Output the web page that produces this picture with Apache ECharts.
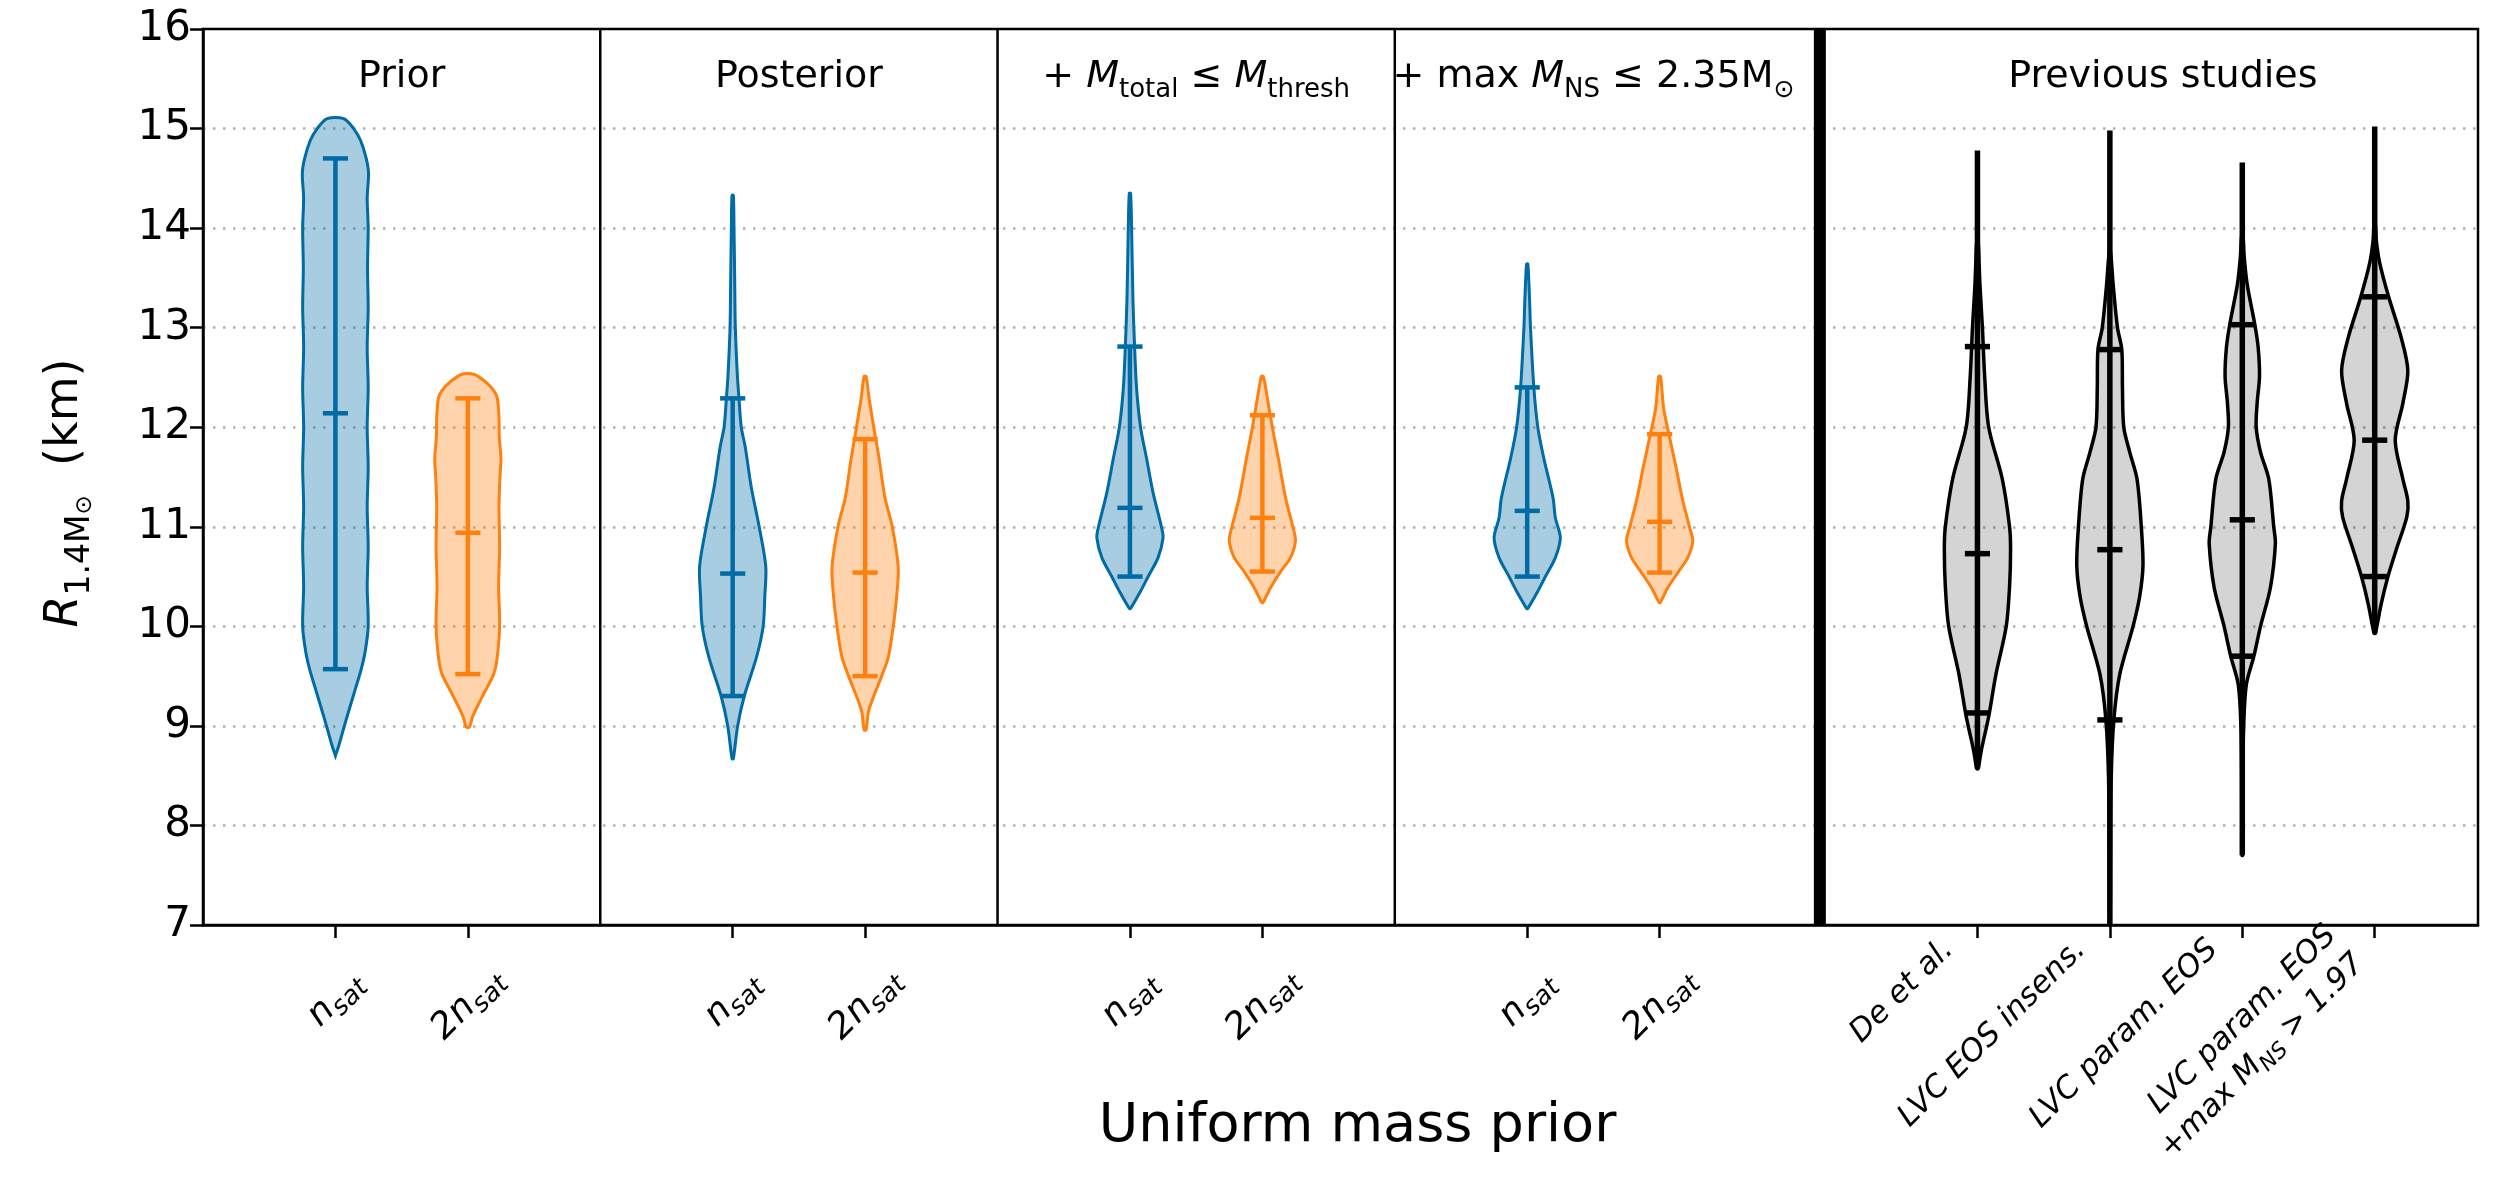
<!DOCTYPE html>
<html>
<head>
<meta charset="utf-8">
<script src="https://cdn.jsdelivr.net/npm/echarts@6/dist/echarts.min.js"></script>
<style>
  html, body { margin: 0; padding: 0; background: #ffffff; }
  #chart { width: 2509px; height: 1203px; }
</style>
</head>
<body>
<div id="chart"></div>
<script>
const FONT = 'DejaVu Sans';

// Horizontal position of each violin; panels are split at 3, 6, 9 and (thick) 12.21
const positions = [1, 2, 4, 5, 7, 8, 10, 11, 13.4, 14.4, 15.4, 16.4];
const tickLabels = [
  '{i|n}{s|sat}', '{i|2n}{s|sat}',
  '{i|n}{s|sat}', '{i|2n}{s|sat}',
  '{i|n}{s|sat}', '{i|2n}{s|sat}',
  '{i|n}{s|sat}', '{i|2n}{s|sat}',
  '{p|De et al.}',
  '{p|LVC EOS insens.}',
  '{p|LVC param. EOS}',
  '{p|LVC param. EOS}\n{p|+max }{p|M}{ps|NS}{p| > 1.97}'
];
const firstStudy = 8;
const panelSeparators = [3, 6, 9];
const studySeparator = 12.21;
const panelCenters = [1.5, 4.5, 7.5, 10.5, 14.8];
const panelTitles = [
  'Prior',
  'Posterior',
  '{t|+ }{m|M}{s|total}{t| ≤ }{m|M}{s|thresh}',
  '{t|+ max }{m|M}{s|NS}{t| ≤ 2.35M}{o|⊙}',
  'Previous studies'
];
const titleLevel = 15.52;

// colour family of each violin
const colorKeys = ['blue', 'orange', 'blue', 'orange', 'blue', 'orange', 'blue', 'orange',
                   'black', 'black', 'black', 'black'];

// R_1.4 summary values (km): lower / median / upper markers
const lowerCaps = [9.57, 9.52, 9.30, 9.50, 10.50, 10.55, 10.50, 10.54, 9.13, 9.06, 9.70, 10.50];
const medians   = [12.14, 10.94, 10.53, 10.54, 11.19, 11.09, 11.16, 11.05, 10.73, 10.77, 11.07, 11.87];
const upperCaps = [14.70, 12.29, 12.29, 11.88, 12.81, 12.12, 12.40, 11.93, 12.81, 12.78, 13.03, 13.31];
// full extent of the vertical bar for the earlier studies (null: bar spans the markers)
const barLow  = [null, null, null, null, null, null, null, null, 8.57, 7.00, 7.70, 9.93];
const barHigh = [null, null, null, null, null, null, null, null, 14.78, 14.98, 14.66, 15.02];

// Violin outlines: [R (km), relative half-width]
const priorNsat = [[8.70, 0.00], [8.80, 0.10], [9.00, 0.27], [9.17, 0.42], [9.38, 0.61], [9.57, 0.78],
  [9.75, 0.90], [10.0, 0.99], [10.4, 0.96], [10.8, 0.99], [11.2, 0.96], [11.6, 0.99], [12.0, 0.96],
  [12.4, 0.99], [12.8, 0.96], [13.2, 0.99], [13.6, 0.97], [14.0, 0.99], [14.3, 0.96], [14.55, 1.00],
  [14.70, 0.93], [14.88, 0.76], [15.0, 0.55], [15.10, 0.25]];
const priorTwoNsat = [[8.99, 0.05], [9.08, 0.13], [9.17, 0.25], [9.33, 0.49], [9.52, 0.78], [9.67, 0.88],
  [10.0, 0.96], [10.4, 0.93], [10.8, 0.96], [11.2, 0.94], [11.5, 0.97], [11.68, 1.00], [11.9, 0.95],
  [12.1, 0.94], [12.29, 0.89], [12.37, 0.78], [12.45, 0.55], [12.53, 0.20]];
const posteriorNsat = [[8.67, 0.02], [9.0, 0.15], [9.3, 0.35], [9.69, 0.72], [10.0, 0.92], [10.3, 0.97],
  [10.6, 1.00], [11.0, 0.80], [11.4, 0.56], [11.8, 0.38], [12.0, 0.26], [12.29, 0.19], [12.53, 0.14],
  [13.0, 0.08], [13.5, 0.06], [14.0, 0.04], [14.33, 0.02]];
const posteriorTwoNsat = [[8.96, 0.03], [9.14, 0.10], [9.29, 0.25], [9.50, 0.50], [9.69, 0.70], [10.0, 0.85],
  [10.29, 0.95], [10.59, 1.00], [11.0, 0.82], [11.29, 0.60], [11.69, 0.42], [12.0, 0.26], [12.29, 0.12],
  [12.51, 0.03]];
const thresholdNsat = [[10.18, 0.02], [10.34, 0.30], [10.50, 0.55], [10.69, 0.85], [10.89, 1.00], [11.0, 0.95],
  [11.34, 0.70], [11.69, 0.50], [12.0, 0.32], [12.39, 0.20], [12.81, 0.14], [13.29, 0.09], [14.0, 0.05],
  [14.35, 0.02]];
const thresholdTwoNsat = [[10.24, 0.02], [10.39, 0.25], [10.55, 0.55], [10.69, 0.85], [10.86, 1.00],
  [11.0, 0.92], [11.29, 0.70], [11.69, 0.48], [12.0, 0.30], [12.29, 0.15], [12.51, 0.03]];
const maxMassNsat = [[10.18, 0.02], [10.34, 0.30], [10.50, 0.55], [10.69, 0.85], [10.89, 1.00], [11.09, 0.85],
  [11.29, 0.78], [11.69, 0.50], [12.0, 0.32], [12.4, 0.20], [13.0, 0.10], [13.29, 0.07], [13.64, 0.02]];
const maxMassTwoNsat = [[10.24, 0.02], [10.39, 0.25], [10.54, 0.55], [10.69, 0.85], [10.86, 1.00], [11.0, 0.90],
  [11.29, 0.68], [11.59, 0.50], [11.93, 0.28], [12.19, 0.12], [12.51, 0.03]];
const deEtAl = [[8.57, 0.02], [8.76, 0.12], [9.0, 0.28], [9.13, 0.36], [9.52, 0.56], [10.0, 0.87], [10.4, 0.97],
  [10.77, 1.00], [11.0, 0.97], [11.48, 0.75], [12.0, 0.34], [12.5, 0.22], [13.0, 0.15], [13.4, 0.08],
  [13.65, 0.05], [13.87, 0.02]];
const lvcInsensitive = [[7.0, 0.01], [7.66, 0.02], [8.48, 0.04], [9.06, 0.12], [9.52, 0.30], [10.0, 0.70],
  [10.3, 0.90], [10.61, 1.00], [11.0, 0.95], [11.48, 0.82], [11.75, 0.60], [12.0, 0.42], [12.4, 0.38],
  [12.78, 0.36], [13.0, 0.23], [13.43, 0.10], [13.76, 0.02]];
const lvcParam = [[7.7, 0.01], [8.5, 0.02], [8.98, 0.04], [9.41, 0.12], [9.70, 0.35], [10.0, 0.55],
  [10.39, 0.85], [10.83, 1.00], [11.0, 0.95], [11.48, 0.80], [11.75, 0.55], [12.0, 0.42], [12.25, 0.45],
  [12.51, 0.52], [12.8, 0.48], [13.03, 0.38], [13.43, 0.15], [13.7, 0.06], [13.92, 0.02]];
const lvcParamMaxMass = [[9.93, 0.02], [10.23, 0.20], [10.50, 0.40], [10.77, 0.65], [11.1, 0.97], [11.26, 1.00],
  [11.48, 0.85], [11.87, 0.62], [12.24, 0.85], [12.57, 1.00], [12.9, 0.80], [13.31, 0.42], [13.65, 0.15],
  [13.87, 0.05], [14.03, 0.02]];

const shapes = [priorNsat, priorTwoNsat, posteriorNsat, posteriorTwoNsat, thresholdNsat, thresholdTwoNsat,
  maxMassNsat, maxMassTwoNsat, deEtAl, lvcInsensitive, lvcParam, lvcParamMaxMass];

const palette = {
  blue:   { line: '#006BA4', fill: 'rgba(0,107,164,0.34)', outline: 3, bar: 4.5 },
  orange: { line: '#FF800E', fill: 'rgba(255,128,14,0.34)', outline: 3, bar: 4.5 },
  black:  { line: '#000000', fill: 'rgba(0,0,0,0.17)', outline: 3.5, bar: 5.5 }
};
const HALF_WIDTH = 0.25;   // widest point of a violin, in x units
const CAP_HALF = 0.095;    // half length of the marker lines

function renderViolin(params, api) {
  const i = params.dataIndex;
  const x = positions[i];
  const c = palette[colorKeys[i]];
  const shape = shapes[i];
  const right = shape.map(([y, w]) => api.coord([x + w * HALF_WIDTH, y]));
  const left = shape.slice().reverse().map(([y, w]) => api.coord([x - w * HALF_WIDTH, y]));
  const children = [{
    type: 'polygon',
    shape: { points: right.concat(left), smooth: 0.3 },
    style: { fill: c.fill, stroke: c.line, lineWidth: c.outline }
  }];
  const lo = barLow[i] != null ? barLow[i] : lowerCaps[i];
  const hi = barHigh[i] != null ? barHigh[i] : upperCaps[i];
  const p0 = api.coord([x, lo]);
  const p1 = api.coord([x, hi]);
  children.push({
    type: 'line',
    shape: { x1: p0[0], y1: p0[1], x2: p1[0], y2: p1[1] },
    style: { stroke: c.line, lineWidth: c.bar }
  });
  [lowerCaps[i], medians[i], upperCaps[i]].forEach(v => {
    const a = api.coord([x - CAP_HALF, v]);
    const b = api.coord([x + CAP_HALF, v]);
    children.push({
      type: 'line',
      shape: { x1: a[0], y1: a[1], x2: b[0], y2: b[1] },
      style: { stroke: c.line, lineWidth: c.bar }
    });
  });
  return { type: 'group', children };
}

function renderSeparator(params, api) {
  const s = api.value(0);
  const a = api.coord([s, 7]);
  const b = api.coord([s, 16]);
  const thick = s === studySeparator;
  return {
    type: 'line',
    shape: { x1: a[0], y1: a[1], x2: b[0], y2: b[1] },
    style: { stroke: '#000', lineWidth: thick ? 12 : 2.5 }
  };
}

const titleRich = {
  t: { fontFamily: FONT, fontSize: 38, lineHeight: 52, fill: '#000' },
  m: { fontFamily: FONT, fontSize: 38, lineHeight: 52, fontStyle: 'italic', fill: '#000' },
  s: { fontFamily: FONT, fontSize: 26, lineHeight: 26, verticalAlign: 'bottom', fill: '#000' },
  o: { fontFamily: FONT, fontSize: 25, lineHeight: 25, verticalAlign: 'bottom', fill: '#000' }
};

function renderTitle(params, api) {
  const i = params.dataIndex;
  const p = api.coord([api.value(0), titleLevel]);
  return {
    type: 'text',
    x: p[0], y: p[1],
    style: {
      text: panelTitles[i],
      fontFamily: FONT, fontSize: 38, fill: '#000',
      align: 'center', verticalAlign: 'middle',
      rich: titleRich
    }
  };
}

const labelRich = {
  i: { fontFamily: FONT, fontSize: 36, fontStyle: 'italic', fill: '#000', lineHeight: 46 },
  s: { fontFamily: FONT, fontSize: 26, fontStyle: 'italic', fill: '#000', lineHeight: 26, verticalAlign: 'bottom' },
  p: { fontFamily: FONT, fontSize: 31, fontStyle: 'italic', fill: '#000', lineHeight: 40 },
  ps: { fontFamily: FONT, fontSize: 22, fontStyle: 'italic', fill: '#000', lineHeight: 22, verticalAlign: 'bottom' }
};

// Rotated tick labels: density labels sit centred under their tick,
// the study names end just left of theirs.
function renderTickLabel(params, api) {
  const i = params.dataIndex;
  const p = api.coord([api.value(0), 7]);
  const study = i >= firstStudy;
  const drop = study ? 20 : (tickLabels[i].indexOf('{i|2n}') === 0 ? 79 : 74);
  return {
    type: 'text',
    x: p[0] + (study ? -29 : 0),
    y: p[1] + drop,
    rotation: Math.PI / 4,
    style: {
      text: tickLabels[i],
      fontFamily: FONT, fontSize: 31, fill: '#000',
      align: study ? 'right' : 'center', verticalAlign: 'middle',
      rich: labelRich
    }
  };
}

const chart = echarts.init(document.getElementById('chart'), null, { renderer: 'canvas' });
chart.setOption({
  animation: false,
  backgroundColor: '#ffffff',
  grid: { left: 203, right: 31, top: 29, bottom: 278, show: true, borderColor: '#000', borderWidth: 2.5 },
  xAxis: {
    type: 'value', min: 0, max: 17.18,
    name: 'Uniform mass prior', nameLocation: 'middle', nameGap: 175,
    nameTextStyle: { fontFamily: FONT, fontSize: 54, color: '#000', padding: [0, 0, 0, 34] },
    axisLine: { show: true, lineStyle: { color: '#000', width: 2.5 } },
    axisTick: { show: true, length: 13, customValues: positions, lineStyle: { color: '#000', width: 2.5 } },
    axisLabel: { show: false },
    splitLine: { show: false }
  },
  yAxis: {
    type: 'value', min: 7, max: 16, interval: 1,
    name: '{r|R}{s|1.4M}{o|⊙}{k|  (km)}', nameLocation: 'middle', nameRotate: 90, nameGap: 106,
    nameTextStyle: {
      fontFamily: FONT, fontSize: 46, color: '#000', padding: [0, 32, 0, 0],
      rich: {
        r: { fontFamily: FONT, fontSize: 46, fontStyle: 'italic', lineHeight: 64, color: '#000' },
        s: { fontFamily: FONT, fontSize: 33, lineHeight: 33, verticalAlign: 'bottom', color: '#000' },
        o: { fontFamily: FONT, fontSize: 23, lineHeight: 23, verticalAlign: 'bottom', color: '#000' },
        k: { fontFamily: FONT, fontSize: 46, lineHeight: 64, color: '#000' }
      }
    },
    axisLine: { show: true, lineStyle: { color: '#000', width: 2.5 } },
    axisTick: { show: true, length: 13, lineStyle: { color: '#000', width: 2.5 } },
    axisLabel: { fontFamily: FONT, fontSize: 42, color: '#000', margin: 12 },
    splitLine: {
      show: true, showMinLine: false, showMaxLine: false,
      lineStyle: { color: '#b0b0b0', width: 2.5, type: [2.5, 7.5] }
    }
  },
  series: [
    {
      type: 'custom', renderItem: renderViolin, clip: true,
      data: positions.map((p, i) => [p, medians[i]]),
      encode: { x: 0, y: 1 }, z: 3
    },
    {
      type: 'custom', renderItem: renderSeparator,
      data: panelSeparators.concat([studySeparator]).map(s => [s, 7]),
      encode: { x: 0, y: 1 }, z: 4
    },
    {
      type: 'custom', renderItem: renderTitle,
      data: panelCenters.map(c => [c, titleLevel]),
      encode: { x: 0, y: 1 }, z: 5
    },
    {
      type: 'custom', renderItem: renderTickLabel,
      data: positions.map(p => [p, 7]),
      encode: { x: 0, y: 1 }, z: 5
    }
  ]
});
</script>
</body>
</html>
